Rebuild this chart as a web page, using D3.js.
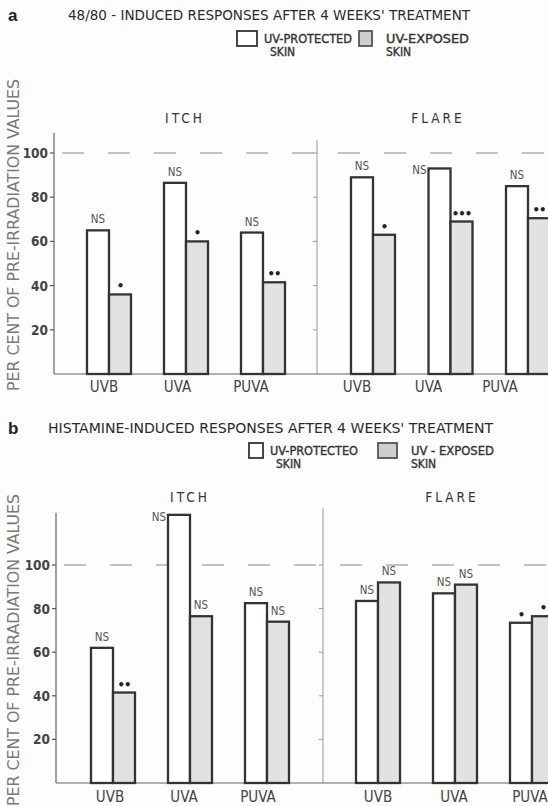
<!DOCTYPE html>
<html>
<head>
<meta charset="utf-8">
<script src="https://cdn.jsdelivr.net/npm/d3@7"></script>
<style>
  body { margin: 0; background: #fdfdfd; }
  svg { display: block; }
</style>
</head>
<body>
<svg></svg>
<script>
const width = 548;
const height = 806;

const treatments = ["UVB", "UVA", "PUVA"];
const yTicks = [20, 40, 60, 80, 100];

// panel a : 48/80
const aItchProtected = [65, 86.5, 64];
const aItchExposed = [36, 60, 41.5];
const aFlareProtected = [89, 93, 85];
const aFlareExposed = [63, 69, 70.5];
const aItchMarks = [["NS", "•"], ["NS", "•"], ["NS", "••"]];
const aFlareMarks = [["NS", "•"], ["NS", "•••"], ["NS", "••"]];

// panel b : histamine
const bItchProtected = [62, 123, 82.5];
const bItchExposed = [41.5, 76.5, 74];
const bFlareProtected = [83.5, 87, 73.5];
const bFlareExposed = [92, 91, 76.5];
const bItchMarks = [["NS", "••"], ["NS", "NS"], ["NS", "NS"]];
const bFlareMarks = [["NS", "NS"], ["NS", "NS"], ["•", "•"]];

const svg = d3.select('svg')
  .attr('width', width)
  .attr('height', height);

const font = "'DejaVu Sans Condensed', 'DejaVu Sans', sans-serif";
const barW = 22;

function drawPanel(p) {
  const g = svg.append('g');
  const y = d3.scaleLinear().domain([0, 100]).range([p.y0, p.y100]);

  // headings
  g.append('text').text(p.letter)
    .attr('x', 8).attr('y', p.titleY + 1)
    .attr('font-family', "'Liberation Sans', sans-serif")
    .attr('font-weight', 'bold').attr('font-size', 17).attr('fill', '#222');
  g.append('text').text(p.title)
    .attr('x', p.titleX).attr('y', p.titleY)
    .attr('textLength', p.titleW).attr('lengthAdjust', 'spacingAndGlyphs')
    .attr('font-family', font).attr('font-size', 14).attr('fill', '#2a2a2a');

  // legend
  const lg = g.append('g')
    .attr('font-family', font)
    .attr('font-size', 12).attr('fill', '#333')
    .attr('stroke', '#333').attr('stroke-width', 0.35);
  lg.append('rect').attr('x', p.legX).attr('y', p.legY)
    .attr('width', p.box1W).attr('height', 15)
    .attr('fill', 'white').attr('stroke', '#333').attr('stroke-width', 1.8);
  lg.append('text').text(p.legText1).attr('x', p.legX + p.box1W + 7).attr('y', p.legY + 12)
    .attr('textLength', 88).attr('lengthAdjust', 'spacingAndGlyphs');
  lg.append('text').text('SKIN').attr('x', p.legX + p.box1W + 13).attr('y', p.legY + 25);
  lg.append('rect').attr('x', p.legX + p.box2Dx).attr('y', p.legY)
    .attr('width', p.box2W).attr('height', 15)
    .attr('fill', '#cfcfcf').attr('stroke', '#555').attr('stroke-width', 1.8);
  lg.append('text').text(p.legText2).attr('x', p.legX + p.box2Dx + p.box2W + 14).attr('y', p.legY + 12)
    .attr('textLength', 83).attr('lengthAdjust', 'spacingAndGlyphs');
  lg.append('text').text('SKIN').attr('x', p.legX + p.box2Dx + p.box2W + 14).attr('y', p.legY + 25);

  // y axis title
  g.append('text').text('PER CENT OF PRE-IRRADIATION VALUES')
    .attr('transform', `translate(19, ${p.yTitleC}) rotate(-90)`)
    .attr('text-anchor', 'middle')
    .attr('textLength', 312).attr('lengthAdjust', 'spacingAndGlyphs')
    .attr('font-family', font).attr('font-size', 16).attr('fill', '#7a7a7a');

  // left axis
  g.append('line').attr('x1', p.axisX).attr('x2', p.axisX)
    .attr('y1', y(p.axisTop)).attr('y2', y(0))
    .attr('stroke', '#666').attr('stroke-width', 1.2);
  g.selectAll('.tk').data(yTicks).enter().append('line')
    .attr('x1', p.axisX - 4).attr('x2', p.axisX)
    .attr('y1', d => y(d)).attr('y2', d => y(d))
    .attr('stroke', '#555').attr('stroke-width', 1.2);
  g.selectAll('.tl').data(yTicks).enter().append('text')
    .text(d => d)
    .attr('x', p.axisX - 6).attr('y', d => y(d) + 5)
    .attr('text-anchor', 'end')
    .attr('font-family', font).attr('font-weight', 'bold')
    .attr('font-size', 13.5).attr('fill', '#444');

  // second (flare) axis
  g.append('line').attr('x1', p.axis2X).attr('x2', p.axis2X)
    .attr('y1', y(p.axis2Top)).attr('y2', y(0))
    .attr('stroke', '#999').attr('stroke-width', 1);
  g.selectAll('.tk2').data(yTicks).enter().append('line')
    .attr('x1', p.axis2X - 4).attr('x2', p.axis2X)
    .attr('y1', d => y(d)).attr('y2', d => y(d))
    .attr('stroke', '#999').attr('stroke-width', 1);

  // baseline and 100 reference
  g.append('line').attr('x1', p.axisX).attr('x2', width)
    .attr('y1', y(0)).attr('y2', y(0))
    .attr('stroke', '#666').attr('stroke-width', 1.2);
  g.append('line').attr('x1', p.axisX + 8).attr('x2', width)
    .attr('y1', y(100)).attr('y2', y(100))
    .attr('stroke', '#888').attr('stroke-width', 1.2)
    .attr('stroke-dasharray', '22,24');

  p.groups.forEach(grp => {
    g.append('text').text(grp.name)
      .attr('x', grp.nameX).attr('y', p.nameY)
      .attr('text-anchor', 'middle')
      .attr('font-family', font).attr('font-size', 13.5)
      .attr('letter-spacing', 3).attr('fill', '#333');

    const x = d3.scalePoint().domain(treatments).range(grp.range);
    const xl = d3.scalePoint().domain(treatments).range(grp.labelRange);

    treatments.forEach((t, i) => {
      const cx = x(t);
      g.append('rect')
        .attr('x', cx - barW).attr('y', y(grp.protected[i]))
        .attr('width', barW).attr('height', y(0) - y(grp.protected[i]))
        .attr('fill', 'white').attr('stroke', '#333').attr('stroke-width', 2.3);
      g.append('rect')
        .attr('x', cx).attr('y', y(grp.exposed[i]))
        .attr('width', barW).attr('height', y(0) - y(grp.exposed[i]))
        .attr('fill', '#e2e2e2').attr('stroke', '#333').attr('stroke-width', 2.3);

      const [m1, m2] = grp.marks[i];
      [[m1, cx - barW / 2, grp.protected[i], true], [m2, cx + barW / 2, grp.exposed[i], false]]
        .forEach(([m, mx, v, left]) => {
          const isNS = m === 'NS';
          // tall protected bars get their label beside the top edge
          const side = isNS && left && v > 92.5;
          g.append('text').text(m)
            .attr('x', side ? mx - barW / 2 - 2 : mx)
            .attr('y', side ? y(v) + 6 : y(v) - (isNS ? 7 : 4))
            .attr('text-anchor', side ? 'end' : 'middle')
            .attr('font-family', font)
            .attr('font-size', isNS ? 11.5 : 13)
            .attr('font-weight', isNS ? 'normal' : 'bold')
            .attr('letter-spacing', isNS ? 0 : -1)
            .attr('fill', isNS ? '#555' : '#222');
        });

      g.append('text').text(t)
        .attr('x', xl(t)).attr('y', p.y0 + p.labelDy)
        .attr('text-anchor', 'middle')
        .attr('font-family', font).attr('font-size', 15).attr('fill', '#444');
    });
  });
}

drawPanel({
  letter: 'a', title: "48/80 - INDUCED RESPONSES AFTER 4 WEEKS' TREATMENT",
  titleX: 68, titleY: 20, titleW: 402,
  legX: 237, legY: 31, box1W: 20, box2Dx: 122, box2W: 13,
  legText1: 'UV-PROTECTED', legText2: 'UV-EXPOSED',
  y0: 374, y100: 153, axisX: 54, axisTop: 109, axis2X: 317, axis2Top: 106,
  yTitleC: 235, labelDy: 18, nameY: 123,
  groups: [
    { name: 'ITCH', nameX: 185, range: [109, 263], labelRange: [104, 251],
      protected: aItchProtected, exposed: aItchExposed, marks: aItchMarks },
    { name: 'FLARE', nameX: 438, range: [373, 528], labelRange: [357, 500],
      protected: aFlareProtected, exposed: aFlareExposed, marks: aFlareMarks }
  ]
});

drawPanel({
  letter: 'b', title: "HISTAMINE-INDUCED RESPONSES AFTER 4 WEEKS' TREATMENT",
  titleX: 48, titleY: 433, titleW: 445,
  legX: 249, legY: 443, box1W: 14, box2Dx: 129, box2W: 19,
  legText1: 'UV-PROTECTEO', legText2: 'UV - EXPOSED',
  y0: 783, y100: 565, axisX: 56, axisTop: 124, axis2X: 323, axis2Top: 126,
  yTitleC: 650, labelDy: 19, nameY: 502,
  groups: [
    { name: 'ITCH', nameX: 190, range: [113, 267], labelRange: [110, 258],
      protected: bItchProtected, exposed: bItchExposed, marks: bItchMarks },
    { name: 'FLARE', nameX: 452, range: [378, 532], labelRange: [378, 530],
      protected: bFlareProtected, exposed: bFlareExposed, marks: bFlareMarks }
  ]
});
</script>
</body>
</html>
